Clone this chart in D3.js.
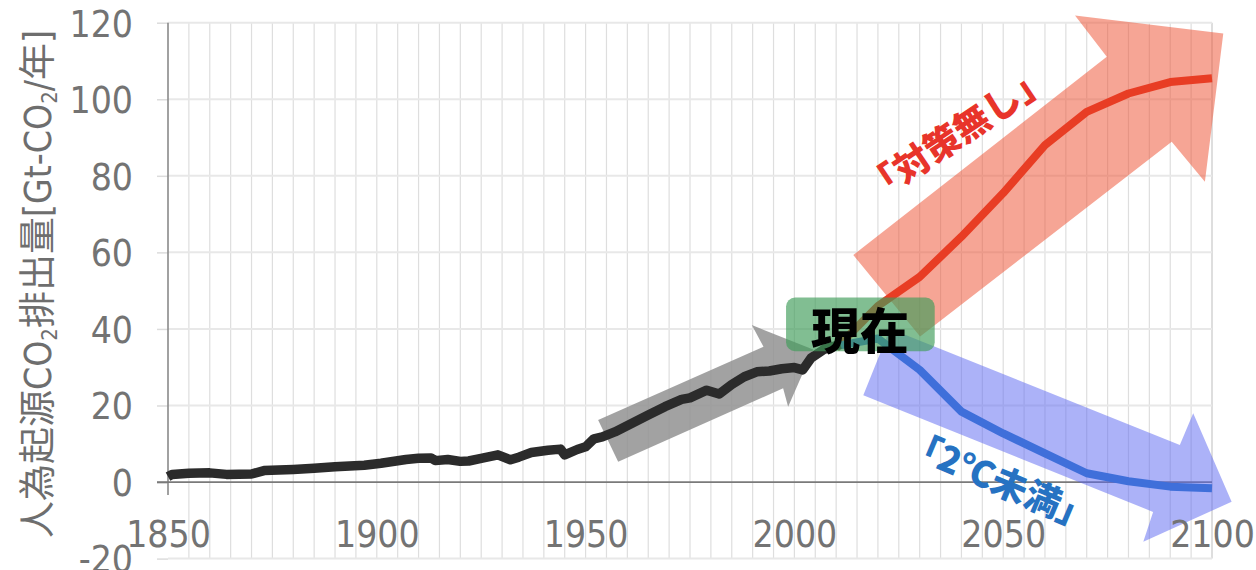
<!DOCTYPE html>
<html>
<head>
<meta charset="utf-8">
<script src="https://cdn.jsdelivr.net/npm/d3@7/dist/d3.min.js"></script>
<style>
  html, body { margin: 0; padding: 0; background: #ffffff; }
  svg { display: block; }
</style>
</head>
<body>
<svg id="chart" width="1256" height="570"></svg>
<script>
// ---------- data ----------
const histYears  = [1850, 1851, 1855, 1860, 1864, 1870, 1873, 1880, 1885, 1890, 1897, 1901, 1907, 1910, 1913, 1914, 1917, 1920, 1922, 1925, 1929, 1932, 1934, 1937, 1941, 1944, 1945, 1948, 1950, 1952, 1954, 1957, 1961, 1965, 1969, 1973, 1975, 1979, 1982, 1985, 1988, 1991, 1994, 1997, 2000, 2002, 2004, 2007, 2011];
const histValues = [1.4, 2.0, 2.3, 2.4, 2.0, 2.1, 3.0, 3.3, 3.6, 4.0, 4.4, 4.9, 5.9, 6.2, 6.3, 5.6, 5.9, 5.4, 5.5, 6.2, 7.1, 5.8, 6.5, 7.7, 8.3, 8.6, 7.1, 8.5, 9.2, 11.3, 11.8, 13.1, 15.3, 17.5, 19.7, 21.6, 22.0, 24.0, 23.0, 25.5, 27.5, 28.8, 29.0, 29.6, 29.9, 29.3, 32.4, 34.6, 36.0];

const scenarioYears  = [2010, 2020, 2030, 2040, 2050, 2060, 2070, 2080, 2090, 2100];
const noActionValues = [35.0, 46.0, 53.6, 64.1, 75.5, 88.0, 96.7, 101.5, 104.5, 105.5];
const below2Values   = [35.5, 37.5, 29.3, 18.4, 12.7, 7.5, 2.3, 0.2, -1.2, -1.6];

const xTickValues = [1850, 1900, 1950, 2000, 2050, 2100];
const yTickValues = [-20, 0, 20, 40, 60, 80, 100, 120];

// annotation arrows, in (year, value) coordinates
const grayArrowYears  = [1953.0, 1992.6, 1989.8, 2004.5, 1998.5, 1997.3, 1957.8];
const grayArrowValues = [16.2, 35.35, 41.0, 34.6, 19.7, 24.5, 5.3];
const redArrowYears   = [2014.1, 2074.8, 2067.2, 2102.7, 2098.3, 2090.35, 2030.1];
const redArrowValues  = [59.3, 111.1, 121.9, 117.2, 78.45, 88.9, 38.0];
const blueArrowYears  = [2022.9, 2092.3, 2095.5, 2104.7, 2083.55, 2085.9, 2016.5];
const blueArrowValues = [40.05, 9.7, 17.95, -5.15, -15.6, -7.8, 22.7];

const yTitleParts = ["人為起源CO", "2", "排出量[Gt-CO", "2", "/年]"];
const nowLabel = "現在";
const noActionLabel = "「対策無し」";
const below2Label = "「2℃未満」";

// ---------- scales ----------
const svg = d3.select("#chart");
const x = d3.scaleLinear().domain([1850, 2100]).range([168, 1212]);
const y = d3.scaleLinear().domain([-20, 120]).range([558.6, 22.7]);

const tickFont = "'DejaVu Sans Condensed', 'DejaVu Sans', sans-serif";
const plainFormat = d => String(d);

// ---------- grid ----------
const grid = svg.append("g");
grid.selectAll("line.v")
  .data(d3.range(1855, 2101, 5))
  .join("line")
  .attr("x1", d => x(d)).attr("x2", d => x(d))
  .attr("y1", y(120)).attr("y2", y(-20))
  .attr("stroke", d => d === 2100 ? "#c8c8c8" : "#dedede")
  .attr("stroke-width", 1.2);
grid.selectAll("line.h")
  .data([-20, 20, 40, 60, 80, 100, 120])
  .join("line")
  .attr("x1", x(1850)).attr("x2", x(2100))
  .attr("y1", d => y(d)).attr("y2", d => y(d))
  .attr("stroke", "#e8e8e8")
  .attr("stroke-width", 2);

// ---------- y axis ----------
const yAxis = d3.axisLeft(y).tickValues(yTickValues).tickSize(11).tickPadding(24).tickFormat(plainFormat);
const yg = svg.append("g").attr("transform", `translate(${x(1850)},0)`).call(yAxis);
yg.select(".domain").remove();
yg.selectAll(".tick line").attr("stroke", d => d === 0 ? "#707070" : "#dcdcdc").attr("stroke-width", 1.5);
yg.selectAll(".tick text")
  .attr("fill", "#737373")
  .attr("font-family", tickFont)
  .attr("font-size", 37)
  .attr("dy", "0.36em");

// y axis line
svg.append("line")
  .attr("x1", x(1850)).attr("x2", x(1850))
  .attr("y1", y(120)).attr("y2", y(0) + 13)
  .attr("stroke", "#8a8a8a").attr("stroke-width", 1.6);
// zero line
svg.append("line")
  .attr("x1", x(1850) - 11).attr("x2", x(2100))
  .attr("y1", y(0)).attr("y2", y(0))
  .attr("stroke", "#7a7a7a").attr("stroke-width", 1.8);

// ---------- arrows ----------
function arrowPts(ys, vs) { return ys.map((yr, i) => [x(yr), y(vs[i])]); }
svg.append("polygon")
  .attr("points", arrowPts(grayArrowYears, grayArrowValues).map(p => p.join(",")).join(" "))
  .attr("fill", "#929292").attr("fill-opacity", 0.85);
svg.append("polygon")
  .attr("points", arrowPts(redArrowYears, redArrowValues).map(p => p.join(",")).join(" "))
  .attr("fill", "#ee5233").attr("fill-opacity", 0.52);
svg.append("polygon")
  .attr("points", arrowPts(blueArrowYears, blueArrowValues).map(p => p.join(",")).join(" "))
  .attr("fill", "#5a66f2").attr("fill-opacity", 0.5);

// ---------- lines ----------
const line = d3.line().x(d => x(d[0])).y(d => y(d[1]));
svg.append("path")
  .datum(scenarioYears.map((yr, i) => [yr, noActionValues[i]]))
  .attr("d", line).attr("fill", "none")
  .attr("stroke", "#e83d24").attr("stroke-width", 8).attr("stroke-linejoin", "round");
svg.append("path")
  .datum(scenarioYears.map((yr, i) => [yr, below2Values[i]]))
  .attr("d", line).attr("fill", "none")
  .attr("stroke", "#3f6fda").attr("stroke-width", 8).attr("stroke-linejoin", "round");
svg.append("path")
  .datum(histYears.map((yr, i) => [yr, histValues[i]]))
  .attr("d", line).attr("fill", "none")
  .attr("stroke", "#2b2b2b").attr("stroke-width", 9.5)
  .attr("stroke-linejoin", "round").attr("stroke-linecap", "butt");

// ---------- "now" box ----------
svg.append("rect")
  .attr("x", x(1998.0)).attr("y", y(48.2))
  .attr("width", x(2033.6) - x(1998.0)).attr("height", y(34.2) - y(48.2))
  .attr("rx", 9).attr("ry", 9)
  .attr("fill", "#3f9c5a").attr("fill-opacity", 0.66);
svg.append("text")
  .attr("x", x(2015.7)).attr("y", y(40.3))
  .attr("text-anchor", "middle").attr("dominant-baseline", "central")
  .attr("font-family", "'Noto Sans CJK JP', sans-serif")
  .attr("font-weight", 900).attr("font-size", 49)
  .attr("fill", "#000000")
  .text(nowLabel);

// ---------- scenario labels ----------
svg.append("text")
  .attr("transform", `translate(${x(2038.5)},${y(91.7)}) rotate(-33.8)`)
  .attr("text-anchor", "middle").attr("dominant-baseline", "central")
  .attr("font-family", "'Noto Sans CJK JP', sans-serif")
  .attr("font-weight", 800).attr("font-size", 36)
  .attr("fill", "#e8342a")
  .text(noActionLabel);
svg.append("text")
  .attr("transform", `translate(${x(2049.4)},${y(1.0)}) rotate(22.8)`)
  .attr("text-anchor", "middle").attr("dominant-baseline", "central")
  .attr("font-family", "'Noto Sans CJK JP', sans-serif")
  .attr("font-weight", 800).attr("font-size", 36)
  .attr("fill", "#2672c2")
  .text(below2Label);

// ---------- x axis labels ----------
const xAxis = d3.axisBottom(x).tickValues(xTickValues).tickSize(0).tickPadding(0).tickFormat(plainFormat);
const xg = svg.append("g").attr("transform", "translate(0,0)").call(xAxis);
xg.select(".domain").remove();
xg.selectAll(".tick text")
  .attr("y", 547).attr("dy", 0)
  .attr("fill", "#737373")
  .attr("font-family", tickFont)
  .attr("font-size", 37);

// ---------- y title ----------
const title = svg.append("text")
  .attr("transform", "translate(51,284) rotate(-90)")
  .attr("text-anchor", "middle")
  .attr("font-family", "'DejaVu Sans Condensed', 'Noto Sans CJK JP', sans-serif")
  .attr("font-size", 37)
  .attr("fill", "#6e6e6e");
yTitleParts.forEach((t, i) => {
  const ts = title.append("tspan").text(t);
  if (i % 2 === 1) ts.attr("font-size", 22).attr("baseline-shift", "-28%");
});
</script>
</body>
</html>
